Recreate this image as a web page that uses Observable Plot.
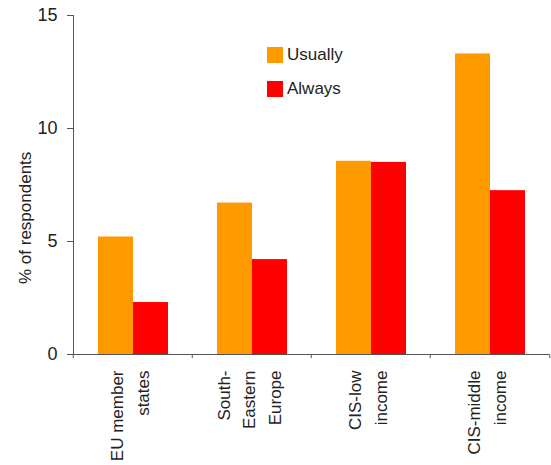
<!DOCTYPE html>
<html>
<head>
<meta charset="utf-8">
<script src="https://cdn.jsdelivr.net/npm/d3@7"></script>
<script src="https://cdn.jsdelivr.net/npm/@observablehq/plot@0.6"></script>
<style>
  html, body { margin: 0; padding: 0; background: #fff; }
  #wrap { position: relative; width: 551px; height: 465px; font-family: "Liberation Sans", Arial, sans-serif; }
  #legend { position: absolute; left: 267px; top: 44px; font-size: 17px; color: #222; }
  #legend .row { display: flex; align-items: center; height: 22px; margin-bottom: 12px; }
  #legend .sw { width: 16px; height: 16px; margin-right: 4px; }
</style>
</head>
<body>
<div id="wrap"><div id="legend"></div></div>
<script>
const categories = ["EU member states", "South-Eastern Europe", "CIS-low income", "CIS-middle income"];
const categoryLabels = ["EU member\nstates", "South-\nEastern\nEurope", "CIS-low\nincome", "CIS-middle\nincome"];
const series = ["Usually", "Always"];
const colors = ["#FF9900", "#FF0000"];
const usuallyValues = [5.2, 6.7, 8.55, 13.3];
const alwaysValues = [2.3, 4.2, 8.5, 7.25];
const yTicks = [0, 5, 10, 15];
const yLabel = "% of respondents";

const data = [];
categories.forEach((c, i) => {
  data.push({category: c, series: "Usually", value: usuallyValues[i]});
  data.push({category: c, series: "Always", value: alwaysValues[i]});
});

const W = 551, H = 465, ML = 72, MR = 1, MT = 15, MB = 111;
const halfBand = (W - ML - MR) / categories.length / 2;
const labelOf = new Map(categories.map((c, i) => [c, categoryLabels[i]]));

const chart = Plot.plot({
  width: W, height: H,
  marginLeft: ML, marginRight: MR, marginTop: MT, marginBottom: MB,
  style: {fontFamily: "'Liberation Sans', Arial, sans-serif", color: "#222", background: "white"},
  fx: {domain: categories, padding: 0, label: null, axis: null},
  x: {domain: series, paddingInner: 0, paddingOuter: 0.7, axis: null},
  y: {domain: [0, 15], axis: null},
  color: {domain: series, range: colors},
  marks: [
    Plot.barY(data, {fx: "category", x: "series", y: "value", fill: "series"}),
    Plot.axisY({ticks: yTicks, tickSize: 6, tickPadding: 10, fontSize: 18, label: null, stroke: "#555", fill: "#222"}),
    Plot.frame({anchor: "left", facetAnchor: "left", stroke: "#555"}),
    Plot.ruleY([0], {stroke: "#555"}),
    Plot.axisFx({anchor: "bottom", tickSize: 0, tickPadding: 16, tickRotate: -90, fontSize: 17, lineHeight: 1.5, dx: -5, label: null, tickFormat: d => labelOf.get(d), fill: "#222"}),
    Plot.axisFx({anchor: "bottom", text: null, tickSize: 4, dx: -halfBand, stroke: "#555", label: null}),
    Plot.axisFx({anchor: "bottom", ticks: [categories[categories.length - 1]], text: null, tickSize: 4, dx: halfBand, stroke: "#555", label: null}),
    Plot.text([yLabel], {fx: () => categories[0], text: d => d, frameAnchor: "left", rotate: -90, dx: -48, dy: 99, fontSize: 17, fill: "#222"})
  ]
});

const wrap = document.getElementById("wrap");
wrap.insertBefore(chart, wrap.firstChild);

const legend = document.getElementById("legend");
series.forEach((s, i) => {
  const row = document.createElement("div");
  row.className = "row";
  const sw = document.createElement("span");
  sw.className = "sw";
  sw.style.background = colors[i];
  const t = document.createElement("span");
  t.textContent = s;
  row.appendChild(sw);
  row.appendChild(t);
  legend.appendChild(row);
});
</script>
</body>
</html>
